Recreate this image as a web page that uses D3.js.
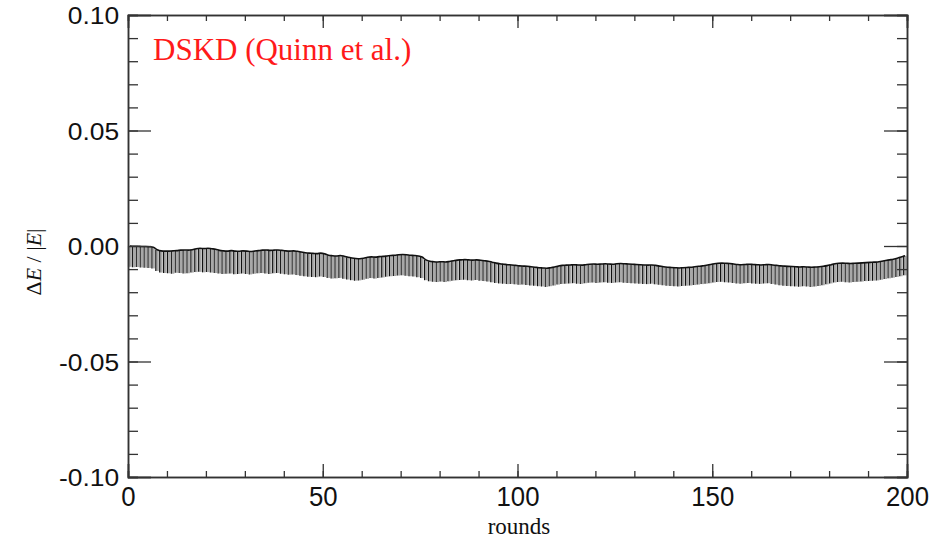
<!DOCTYPE html>
<html>
<head>
<meta charset="utf-8">
<script src="https://cdn.jsdelivr.net/npm/d3@7"></script>
<style>
  body { margin: 0; background: #fff; }
  svg { display: block; }
</style>
</head>
<body>
<svg id="chart" width="947" height="538"></svg>
<script>
// upper end of each round's bar (rounds 0..199)
var topVals = [
  -0.0000, -0.0001, -0.0001, -0.0002, -0.0002, -0.0003, -0.0005, -0.0016, -0.0021, -0.0022,
  -0.0022, -0.0021, -0.0020, -0.0018, -0.0017, -0.0018, -0.0016, -0.0012, -0.0010, -0.0011,
  -0.0010, -0.0012, -0.0014, -0.0019, -0.0021, -0.0022, -0.0020, -0.0022, -0.0023, -0.0021,
  -0.0022, -0.0024, -0.0022, -0.0020, -0.0018, -0.0017, -0.0019, -0.0018, -0.0017, -0.0019,
  -0.0021, -0.0022, -0.0021, -0.0023, -0.0026, -0.0029, -0.0031, -0.0032, -0.0033, -0.0031,
  -0.0034, -0.0040, -0.0042, -0.0043, -0.0041, -0.0044, -0.0049, -0.0052, -0.0054, -0.0055,
  -0.0053, -0.0049, -0.0047, -0.0048, -0.0046, -0.0045, -0.0043, -0.0041, -0.0040, -0.0038,
  -0.0037, -0.0038, -0.0040, -0.0041, -0.0043, -0.0048, -0.0060, -0.0066, -0.0068, -0.0069,
  -0.0068, -0.0069, -0.0067, -0.0064, -0.0061, -0.0060, -0.0059, -0.0060, -0.0061, -0.0060,
  -0.0062, -0.0064, -0.0066, -0.0070, -0.0074, -0.0077, -0.0079, -0.0081, -0.0082, -0.0084,
  -0.0086, -0.0087, -0.0088, -0.0090, -0.0092, -0.0094, -0.0095, -0.0096, -0.0094, -0.0091,
  -0.0087, -0.0084, -0.0083, -0.0082, -0.0081, -0.0082, -0.0083, -0.0081, -0.0079, -0.0078,
  -0.0079, -0.0078, -0.0077, -0.0078, -0.0079, -0.0077, -0.0076, -0.0077, -0.0078, -0.0079,
  -0.0080, -0.0081, -0.0082, -0.0083, -0.0082, -0.0084, -0.0087, -0.0090, -0.0092, -0.0093,
  -0.0094, -0.0095, -0.0094, -0.0093, -0.0092, -0.0090, -0.0088, -0.0086, -0.0083, -0.0080,
  -0.0077, -0.0075, -0.0074, -0.0075, -0.0076, -0.0078, -0.0080, -0.0081, -0.0080, -0.0079,
  -0.0080, -0.0081, -0.0082, -0.0081, -0.0080, -0.0082, -0.0084, -0.0086, -0.0087, -0.0088,
  -0.0089, -0.0090, -0.0091, -0.0090, -0.0091, -0.0092, -0.0091, -0.0090, -0.0088, -0.0085,
  -0.0081, -0.0077, -0.0075, -0.0074, -0.0075, -0.0076, -0.0075, -0.0074, -0.0073, -0.0072,
  -0.0071, -0.0070, -0.0069, -0.0066, -0.0063, -0.0060, -0.0057, -0.0053, -0.0048, -0.0042
];
// lower end of each round's bar
var bottomVals = [
  -0.0090, -0.0092, -0.0091, -0.0093, -0.0094, -0.0095, -0.0097, -0.0108, -0.0115, -0.0117,
  -0.0118, -0.0120, -0.0116, -0.0117, -0.0119, -0.0118, -0.0115, -0.0113, -0.0112, -0.0114,
  -0.0113, -0.0115, -0.0117, -0.0119, -0.0121, -0.0120, -0.0119, -0.0122, -0.0121, -0.0119,
  -0.0121, -0.0123, -0.0120, -0.0118, -0.0117, -0.0119, -0.0121, -0.0118, -0.0117, -0.0120,
  -0.0122, -0.0124, -0.0123, -0.0126, -0.0129, -0.0131, -0.0133, -0.0134, -0.0135, -0.0132,
  -0.0134, -0.0138, -0.0141, -0.0140, -0.0138, -0.0142, -0.0145, -0.0148, -0.0150, -0.0149,
  -0.0146, -0.0142, -0.0139, -0.0141, -0.0138, -0.0136, -0.0133, -0.0131, -0.0130, -0.0128,
  -0.0127, -0.0129, -0.0131, -0.0132, -0.0135, -0.0139, -0.0148, -0.0153, -0.0155, -0.0156,
  -0.0154, -0.0156, -0.0153, -0.0150, -0.0148, -0.0147, -0.0146, -0.0148, -0.0149, -0.0147,
  -0.0150, -0.0152, -0.0154, -0.0157, -0.0160, -0.0162, -0.0163, -0.0165, -0.0164, -0.0166,
  -0.0168, -0.0167, -0.0169, -0.0171, -0.0172, -0.0174, -0.0175, -0.0177, -0.0174, -0.0171,
  -0.0167, -0.0164, -0.0163, -0.0162, -0.0161, -0.0163, -0.0164, -0.0161, -0.0159, -0.0158,
  -0.0160, -0.0158, -0.0157, -0.0159, -0.0160, -0.0158, -0.0157, -0.0159, -0.0160, -0.0161,
  -0.0162, -0.0163, -0.0164, -0.0165, -0.0163, -0.0166, -0.0168, -0.0170, -0.0172, -0.0173,
  -0.0174, -0.0175, -0.0173, -0.0172, -0.0171, -0.0169, -0.0167, -0.0165, -0.0163, -0.0161,
  -0.0158, -0.0156, -0.0155, -0.0157, -0.0158, -0.0160, -0.0162, -0.0163, -0.0161, -0.0160,
  -0.0162, -0.0163, -0.0164, -0.0162, -0.0161, -0.0164, -0.0167, -0.0170, -0.0172, -0.0173,
  -0.0174, -0.0175, -0.0176, -0.0174, -0.0175, -0.0177, -0.0175, -0.0173, -0.0170, -0.0166,
  -0.0162, -0.0158, -0.0156, -0.0155, -0.0157, -0.0158, -0.0156, -0.0155, -0.0154, -0.0152,
  -0.0151, -0.0150, -0.0149, -0.0146, -0.0143, -0.0140, -0.0137, -0.0134, -0.0131, -0.0127
];
var xTicks = [0, 50, 100, 150, 200];
var yTicks = [-0.10, -0.05, 0.00, 0.05, 0.10];
var xMinor = d3.range(0, 201, 10);
var yMinor = d3.range(-10, 11).map(function(k){ return k / 100; });
var legendText = "DSKD (Quinn et al.)";

var svg = d3.select("#chart");
var plotLeft = 128, plotRight = 907, plotTop = 15, plotBottom = 477;

var x = d3.scaleLinear().domain([0, 200]).range([plotLeft, plotRight]);
var y = d3.scaleLinear().domain([-0.10, 0.10]).range([plotBottom, plotTop]);

// bars
var bars = svg.append("g");
topVals.forEach(function(t, i){
    var b = bottomVals[i];
    bars.append("rect")
        .attr("x", x(i) + 0.8)
        .attr("y", y(t))
        .attr("width", x(i + 1) - x(i) - 1.2)
        .attr("height", y(b) - y(t))
        .attr("fill", "#a8a8a8");
    bars.append("line")
        .attr("x1", x(i) + 0.5).attr("x2", x(i) + 0.5)
        .attr("y1", y(t)).attr("y2", y(b))
        .attr("stroke", "#111").attr("stroke-width", 1.1);
});

// outline along the tops
var line = d3.line()
    .x(function(d, i){ return x(i + 0.5); })
    .y(function(d){ return y(d); })
    .curve(d3.curveMonotoneX);
svg.append("path")
    .datum(topVals)
    .attr("d", line)
    .attr("fill", "none")
    .attr("stroke", "#111")
    .attr("stroke-width", 1.6);

// axes: major + minor ticks on all four sides
function axisGroup(axis, tx, ty){
    var g = svg.append("g").attr("transform", "translate(" + tx + "," + ty + ")").call(axis);
    g.select(".domain").attr("stroke", "#333").attr("stroke-width", 1.5);
    g.selectAll(".tick line").attr("stroke", "#333").attr("stroke-width", 1.3);
    return g;
}
var fmtNone = function(){ return ""; };
var fmtY = function(d){ return d3.format(".2f")(d).replace("\u2212", "-"); };

axisGroup(d3.axisBottom(x).tickValues(xMinor).tickSize(-6).tickFormat(fmtNone), 0, plotBottom);
axisGroup(d3.axisTop(x).tickValues(xMinor).tickSize(-6).tickFormat(fmtNone), 0, plotTop);
axisGroup(d3.axisLeft(y).tickValues(yMinor).tickSize(-10).tickFormat(fmtNone), plotLeft, 0);
axisGroup(d3.axisRight(y).tickValues(yMinor).tickSize(-10).tickFormat(fmtNone), plotRight, 0);

var xb = axisGroup(d3.axisBottom(x).tickValues(xTicks).tickSize(-13).tickPadding(9).tickFormat(d3.format("d")), 0, plotBottom);
axisGroup(d3.axisTop(x).tickValues(xTicks).tickSize(-13).tickFormat(fmtNone), 0, plotTop);
var yl = axisGroup(d3.axisLeft(y).tickValues(yTicks).tickSize(-23).tickPadding(8).tickFormat(fmtY), plotLeft, 0);
axisGroup(d3.axisRight(y).tickValues(yTicks).tickSize(-23).tickFormat(fmtNone), plotRight, 0);

xb.selectAll(".tick text")
    .attr("font-family", "'Liberation Sans', Arial, sans-serif")
    .attr("font-size", 28)
    .attr("fill", "#111")
    .attr("transform", "scale(0.92,1)");
yl.selectAll(".tick text")
    .attr("font-family", "'Liberation Sans', Arial, sans-serif")
    .attr("font-size", 24)
    .attr("fill", "#111")
    .attr("dy", "0.36em")
    .attr("transform", "scale(1.1,1)");

// axis titles
svg.append("text")
    .attr("x", 519).attr("y", 534)
    .attr("text-anchor", "middle")
    .attr("font-family", "'Liberation Serif', 'Times New Roman', serif")
    .attr("font-size", 23)
    .attr("fill", "#111")
    .text("rounds");

var yt = svg.append("text")
    .attr("transform", "translate(41,262) rotate(-90)")
    .attr("text-anchor", "middle")
    .attr("font-family", "'Liberation Serif', 'Times New Roman', serif")
    .attr("font-size", 22)
    .attr("fill", "#111");
yt.append("tspan").text("\u0394");
yt.append("tspan").attr("font-style", "italic").text("E");
yt.append("tspan").text(" / |");
yt.append("tspan").attr("font-style", "italic").text("E");
yt.append("tspan").text("|");

// legend label
svg.append("text")
    .attr("x", 153).attr("y", 60)
    .attr("font-family", "'Liberation Serif', 'Times New Roman', serif")
    .attr("font-size", 31)
    .attr("fill", "#ff1a1a")
    .text(legendText);
</script>
</body>
</html>
